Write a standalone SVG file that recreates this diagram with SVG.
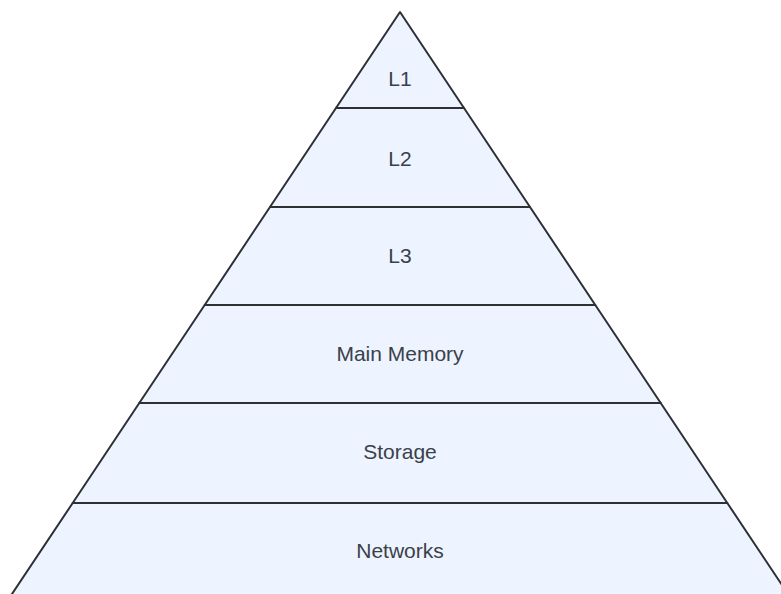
<svg xmlns="http://www.w3.org/2000/svg" width="781" height="594" viewBox="0 0 781 594">
<style>
.band{fill:#edf4ff;stroke:#2d3136;stroke-width:2;stroke-linejoin:round}
.lbl{font-family:"Liberation Sans",Arial,sans-serif;font-size:21px;fill:#3a414a;text-anchor:middle;dominant-baseline:central}
</style>
<rect width="781" height="594" fill="#ffffff"/>
<g id="l1"><polygon class="band" points="400,12 464,108 336,108"/><text class="lbl" x="400" y="78">L1</text></g>
<g id="l2"><polygon class="band" points="336,108 464,108 530,207 270,207"/><text class="lbl" x="400" y="158">L2</text></g>
<g id="l3"><polygon class="band" points="270,207 530,207 595.3,305 204.7,305"/><text class="lbl" x="400" y="255">L3</text></g>
<g id="main-memory"><polygon class="band" points="204.7,305 595.3,305 660.7,403 139.3,403"/><text class="lbl" x="400" y="353">Main Memory</text></g>
<g id="storage"><polygon class="band" points="139.3,403 660.7,403 727.3,503 72.7,503"/><text class="lbl" x="400" y="451">Storage</text></g>
<g id="networks"><polygon class="band" points="72.7,503 727.3,503 792.7,601 7.3,601"/><text class="lbl" x="400" y="550">Networks</text></g>
<g id="connectors"></g>
</svg>
